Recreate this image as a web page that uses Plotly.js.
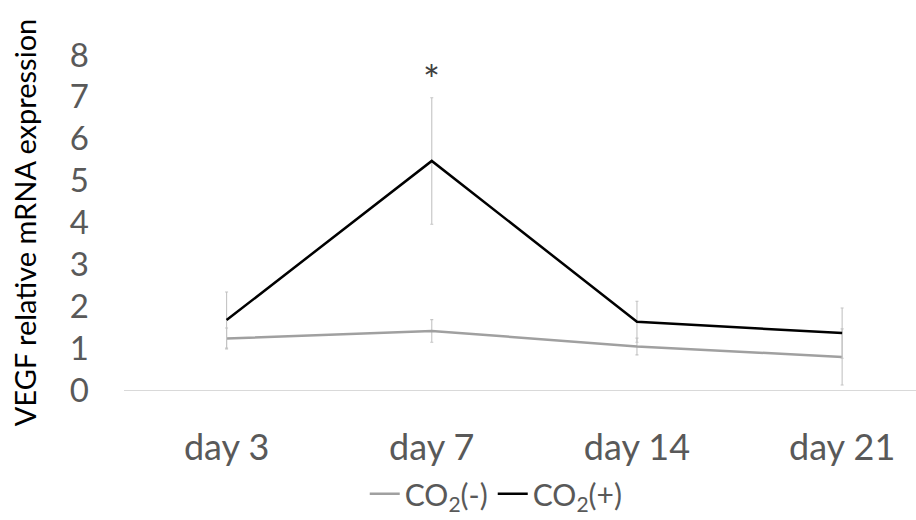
<!DOCTYPE html>
<html>
<head>
<meta charset="utf-8">
<script src="https://cdn.plot.ly/plotly-3.0.1.min.js"></script>
<style>html,body{margin:0;padding:0;background:#fff;}#chart{width:916px;height:520px;}</style>
</head>
<body>
<div id="chart"></div>
<script>
const days = ['day 3', 'day 7', 'day 14', 'day 21'];
const co2Neg = [1.23, 1.41, 1.04, 0.79];
const co2NegErr = [0.25, 0.27, 0.20, 0.67];
const co2Pos = [1.67, 5.47, 1.63, 1.36];
const co2PosErr = [0.67, 1.51, 0.49, 0.60];
const seriesNames = ['CO<sub>2</sub>(-)', 'CO<sub>2</sub>(+)'];
const yTicks = [0, 1, 2, 3, 4, 5, 6, 7, 8];

const FONT = 'Lato, "Open Sans", sans-serif';
const errStyle = {type: 'data', visible: true, color: '#c4c4c4', thickness: 1.1, width: 1.5};

const traces = [
  {x: days, y: co2Neg, name: seriesNames[0], type: 'scatter', mode: 'lines',
   line: {color: '#a0a0a0', width: 2.5},
   error_y: Object.assign({array: co2NegErr}, errStyle)},
  {x: days, y: co2Pos, name: seriesNames[1], type: 'scatter', mode: 'lines',
   line: {color: '#000000', width: 2.5},
   error_y: Object.assign({array: co2PosErr}, errStyle)}
];

const layout = {
  width: 916, height: 520,
  margin: {l: 124, r: 0, t: 55, b: 127},
  paper_bgcolor: '#ffffff', plot_bgcolor: '#ffffff',
  font: {family: FONT, color: '#595959'},
  showlegend: true,
  legend: {orientation: 'h', x: 0.47, xanchor: 'center', y: -0.31, yanchor: 'middle',
           font: {size: 30, color: '#595959', family: FONT}, itemwidth: 30,
           tracegroupgap: 0, traceorder: 'normal'},
  xaxis: {type: 'category', range: [-0.5, 3.36], showgrid: false, zeroline: false,
          showline: true, linecolor: '#d9d9d9', linewidth: 1, ticks: '',
          tickfont: {size: 36, color: '#595959', family: FONT}, ticklabelstandoff: 26,
          fixedrange: true},
  yaxis: {range: [0, 8], tickvals: yTicks, showgrid: false, zeroline: false, showline: false,
          ticks: '', tickfont: {size: 33, color: '#595959', family: FONT},
          ticklabelstandoff: 34, automargin: false,
          title: {text: 'VEGF relative mRNA expression', font: {size: 29, color: '#000000', family: FONT}, standoff: 24},
          fixedrange: true},
  annotations: [
    {x: 'day 7', y: 7.4, xref: 'x', yref: 'y', text: '*', showarrow: false,
     font: {size: 40, color: '#404040', family: FONT}, xanchor: 'center', yanchor: 'middle'}
  ]
};

Plotly.newPlot('chart', traces, layout, {displayModeBar: false, staticPlot: true});
</script>
</body>
</html>
